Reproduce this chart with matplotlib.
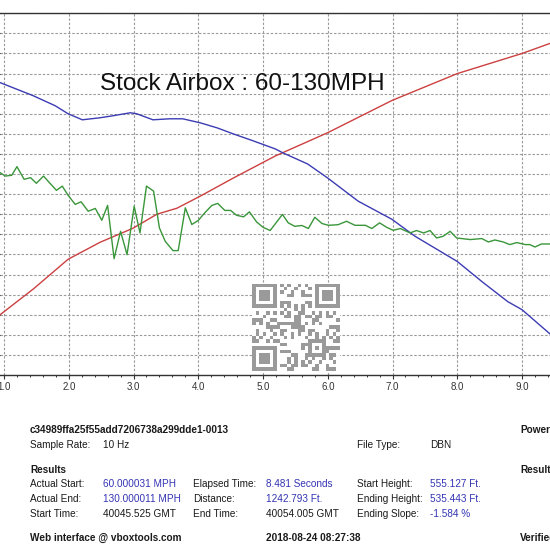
import matplotlib
matplotlib.use("Agg")
import matplotlib.pyplot as plt
import numpy as np
from matplotlib.colors import ListedColormap

plt.rcParams['font.family'] = ['Liberation Sans', 'DejaVu Sans']

# ---------------- data ----------------
title = "Stock Airbox : 60-130MPH"

x_ticks = [1, 2, 3, 4, 5, 6, 7, 8, 9]
x_tick_labels = ["1.0", "2.0", "3.0", "4.0", "5.0", "6.0", "7.0", "8.0", "9.0"]

# speed (MPH) vs time (s)
speed_t = [0.94, 1.46, 1.99, 2.48, 2.99, 3.36, 3.67, 4.03, 4.54, 5.19, 6.0, 6.99, 8.0, 9.0, 9.43]
speed_v = [60.0, 66.5, 73.8, 78.0, 81.5, 85.0, 86.5, 89.5, 94.0, 99.5, 105.3, 113.3, 120.0, 125.0, 127.5]

# blue channel (grid units)
blue_t = [0.94, 1.45, 1.79, 1.99, 2.21, 2.48, 2.68, 2.95, 3.05, 3.30, 3.56, 3.76, 4.03, 4.29,
          4.54, 4.85, 5.19, 5.31, 5.69, 6.0, 6.47, 6.99, 7.35, 8.0, 8.38, 8.78, 9.0, 9.43]
blue_v = [14.55, 13.9, 13.4, 13.0, 12.7, 12.8, 12.9, 13.05, 13.0, 12.7, 12.75, 12.75, 12.55, 12.3,
          12.0, 11.65, 11.25, 11.05, 10.5, 9.8, 8.65, 7.75, 6.9, 5.65, 4.65, 3.65, 3.25, 2.05]

# green channel (grid units)
green_t = [0.94, 1.02, 1.12, 1.20, 1.31, 1.41, 1.50, 1.61, 1.71, 1.81, 1.90, 1.99, 2.10, 2.19,
           2.30, 2.41, 2.51, 2.60, 2.70, 2.80, 2.90, 3.01, 3.10, 3.20, 3.31, 3.40, 3.49, 3.61,
           3.69, 3.80, 3.90, 4.00, 4.10, 4.21, 4.30, 4.41, 4.50, 4.59, 4.70, 4.79, 4.90, 5.00,
           5.11, 5.30, 5.39, 5.49, 5.60, 5.70, 5.80, 5.91, 6.01, 6.16, 6.29, 6.42, 6.58, 6.68,
           6.80, 6.91, 7.01, 7.12, 7.27, 7.37, 7.48, 7.58, 7.68, 7.78, 7.89, 7.99, 8.20, 8.38,
           8.48, 8.58, 8.71, 8.81, 8.92, 9.05, 9.12, 9.20, 9.30, 9.43]
green_v = [10.07, 9.90, 9.94, 10.37, 9.74, 9.82, 9.54, 9.90, 9.54, 9.19, 9.40, 8.94, 8.49, 8.62,
           8.15, 8.29, 7.70, 8.44, 5.79, 7.15, 5.99, 8.40, 7.07, 9.40, 9.15, 7.32, 6.65, 6.19,
           6.19, 8.32, 7.49, 7.69, 8.07, 8.44, 8.54, 8.19, 8.19, 7.95, 7.87, 8.12, 7.62, 7.35,
           7.19, 7.99, 7.57, 7.40, 7.44, 7.29, 7.85, 7.54, 7.45, 7.48, 7.65, 7.45, 7.45, 7.29,
           7.57, 7.35, 7.20, 7.29, 7.07, 7.19, 7.07, 7.19, 6.82, 6.90, 7.15, 6.82, 6.74, 6.79,
           6.62, 6.72, 6.62, 6.49, 6.59, 6.49, 6.49, 6.37, 6.52, 6.52]

file_id = "c34989ffa25f55add7206738a299dde1-0013"
info_rows = [
    # (label, value, value_is_blue) per column group
    [("Actual Start:", "60.000031 MPH", True), ("Elapsed Time:", "8.481 Seconds", True), ("Start Height:", "555.127 Ft.", True)],
    [("Actual End:", "130.000011 MPH", True), ("Distance:", "1242.793 Ft.", True), ("Ending Height:", "535.443 Ft.", True)],
    [("Start Time:", "40045.525 GMT", False), ("End Time:", "40054.005 GMT", False), ("Ending Slope:", "-1.584 %", True)],
]

# ---------------- figure ----------------
W = H = 550.0
fig = plt.figure(figsize=(5.5, 5.5), dpi=100)
fig.patch.set_facecolor("white")

def fx(px):
    return px / W

def fy(py):
    return 1 - py / H

top_px, bot_px = 13.3, 375.0
ax = fig.add_axes([0, fy(bot_px), 1, (bot_px - top_px) / H])
ax.set_xlim(0.938, 9.432)
ax.set_ylim(45, 135)
ax.set_facecolor("white")

for s in ["left", "right"]:
    ax.spines[s].set_visible(False)
for s in ["top", "bottom"]:
    ax.spines[s].set_color("#333333")
    ax.spines[s].set_linewidth(1.0)

ax.set_yticks(np.arange(45, 136, 5))
ax.tick_params(axis="y", left=False, labelleft=False)
ax.set_xticks(x_ticks)
ax.set_xticklabels(x_tick_labels)
ax.set_xticks(np.arange(1.0, 9.5, 0.2), minor=True)
ax.tick_params(axis="x", which="major", direction="out", length=2.8, width=0.8,
               color="#333333", labelsize=7, labelcolor="#333333", pad=2)
ax.tick_params(axis="x", which="minor", direction="out", length=1.5, width=0.7, color="#333333")
ax.grid(True, which="major", axis="both", color="#9a9a9a", linestyle=(0, (2.2, 1.6)), linewidth=0.8)
ax.set_axisbelow(True)

ax.plot(speed_t, speed_v, color="#cc4040", lw=1.0, zorder=3)

ax2 = ax.twinx()
ax2.set_ylim(0, 18)
ax2.axis("off")
ax2.plot(blue_t, blue_v, color="#3c3cb4", lw=1.0)
ax2.plot(green_t, green_v, color="#3a963a", lw=1.0)

fig.text(fx(100), fy(90), title, fontsize=17.5, color="#111111", va="baseline", ha="left")

# QR-like code block (decorative)
n = 25
qr = np.zeros((n, n), dtype=int)
for i in range(n):
    for j in range(n):
        qr[i, j] = 1 if ((i * 31 + j * 17 + (i * j) % 7) % 5) < 2 else 0

def finder(r, c):
    qr[max(r - 1, 0):min(r + 8, n), max(c - 1, 0):min(c + 8, n)] = 0
    qr[r:r + 7, c:c + 7] = 1
    qr[r + 1:r + 6, c + 1:c + 6] = 0
    qr[r + 2:r + 5, c + 2:c + 5] = 1

finder(0, 0)
finder(0, n - 7)
finder(n - 7, 0)
for k in range(8, n - 8):
    qr[6, k] = 1 - k % 2
    qr[k, 6] = 1 - k % 2
qr[16:21, 16:21] = 1
qr[17:20, 17:20] = 0
qr[18, 18] = 1

qax = fig.add_axes([fx(252), fy(372), fx(340) - fx(252), (372 - 283) / H])
qax.imshow(qr, cmap=ListedColormap(["white", "#9a9a9a"]), interpolation="nearest",
           extent=(-1.0, n + 1.0, n + 1.0, -1.0))
qax.set_xlim(-1.0, n + 1.0)
qax.set_ylim(n + 1.0, -1.0)
qax.set_facecolor("white")
qax.axis("off")
qax.add_patch(plt.Rectangle((-1, -1), n + 2, n + 2, facecolor="white", edgecolor="none", zorder=0))
qax.images[0].set_zorder(1)

# ---------------- info block ----------------
fs = 7.2
black = "#1a1a1a"
blue = "#3434b4"
fig.text(fx(30), fy(433.3), file_id, fontsize=fs, fontweight="bold", color=black, va="baseline")
fig.text(fx(520), fy(433.3), "Power", fontsize=fs, fontweight="bold", color=black, va="baseline")
fig.text(fx(30), fy(448.3), "Sample Rate:", fontsize=fs, color=black, va="baseline")
fig.text(fx(103), fy(448.3), "10 Hz", fontsize=fs, color=black, va="baseline")
fig.text(fx(357), fy(448.3), "File Type:", fontsize=fs, color=black, va="baseline")
fig.text(fx(430), fy(448.3), "DBN", fontsize=fs, color=black, va="baseline")

fig.text(fx(30), fy(473.3), "Results", fontsize=fs, fontweight="bold", color=black, va="baseline")
fig.text(fx(520), fy(473.3), "Results", fontsize=fs, fontweight="bold", color=black, va="baseline")

col_label_x = [30, 193, 357]
col_value_x = [103, 266, 430]
row_y = [487.3, 502.3, 516.7]
for r, row in enumerate(info_rows):
    for c, (lab, val, isblue) in enumerate(row):
        fig.text(fx(col_label_x[c]), fy(row_y[r]), lab, fontsize=fs, color=black, va="baseline")
        fig.text(fx(col_value_x[c]), fy(row_y[r]), val, fontsize=fs,
                 color=blue if isblue else black, va="baseline")

fig.text(fx(30), fy(540.7), "Web interface @ vboxtools.com", fontsize=fs, fontweight="bold", color=black, va="baseline")
fig.text(fx(266), fy(540.7), "2018-08-24 08:27:38", fontsize=fs, fontweight="bold", color=black, va="baseline")
fig.text(fx(520), fy(540.7), "Verified", fontsize=fs, fontweight="bold", color=black, va="baseline")

fig.savefig("out.png", dpi=100, facecolor="white")
